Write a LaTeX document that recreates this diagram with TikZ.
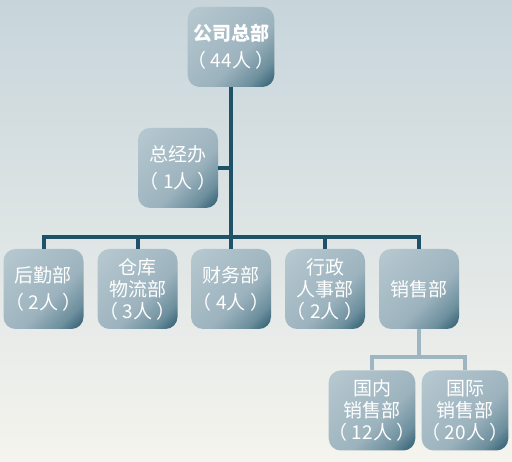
\documentclass[tikz,border=0pt]{standalone}
\usepackage{fontspec}
\setmainfont{Noto Sans CJK SC}
\usepackage{xcolor}
\usetikzlibrary{positioning}

\definecolor{bgtop}{RGB}{199,213,219}
\definecolor{bgbottom}{RGB}{245,244,238}
\definecolor{boxlight}{RGB}{180,198,206}
\definecolor{boxmid}{RGB}{156,179,190}
\definecolor{boxdark}{RGB}{38,88,108}
\definecolor{linedark}{RGB}{31,82,102}
\definecolor{linelight}{RGB}{158,182,193}
\pgfdeclarehorizontalshading{unitshade}{100bp}{color(0bp)=(boxlight); color(20bp)=(boxlight); color(58bp)=(boxmid); color(74bp)=(boxmid!60!boxdark); color(86bp)=(boxdark); color(100bp)=(boxdark)}

\tikzset{
  unit/.style={rectangle, rounded corners=12pt, minimum width=80pt, minimum height=80pt,
    inner sep=0pt, shading=unitshade, shading angle=-45, text=white, align=center,
    font=\fontsize{19}{27}\selectfont},
  tallunit/.style={unit, font=\fontsize{19}{22}\selectfont},
  conn/.style={draw=linedark, line width=4pt},
  subconn/.style={draw=linelight, line width=4pt}
}

\begin{document}
\begin{tikzpicture}[x=1pt, y=-1pt]
\fill[top color=bgtop, bottom color=bgbottom] (0,0) rectangle (512,462);
\useasboundingbox (0,0) rectangle (512,462);

% head office and its staff office
\node[unit] (hq) at (231,47) {\textbf{公司总部}\\（ 44人 ）};
\node[unit] (office) at (178,168) {总经办\\（ 1人 ）};

% departments
\node[unit] (logi) at (43.5,289) {后勤部\\（ 2人 ）};
\node[tallunit] (ware) at (137.5,289) {仓库\\物流部\\（ 3人 ）};
\node[unit] (fin) at (231,289) {财务部\\（ 4人 ）};
\node[tallunit] (admin) at (325,289) {行政\\人事部\\（ 2人 ）};
\node[unit] (sales) at (419,289) {销售部};

% sales teams
\node[tallunit] (dom) at (372,410.5) {国内\\销售部\\（ 12人 ）};
\node[tallunit, minimum width=78pt] (intl) at (465,410.5) {国际\\销售部\\（ 20人 ）};

\draw[conn] (hq) -- (fin);
\draw[conn] (office.east) -- (office.east -| hq.south);
\draw[conn] (logi.north) -- ++(0,-12) -| (sales.north);
\foreach \d in {ware,admin} { \draw[conn] (\d.north) -- ++(0,-12); }

\draw[subconn] (sales.south) -- ++(0,28) -| (dom.north);
\draw[subconn] (sales.south) ++(0,28) -| (intl.north);
\end{tikzpicture}
\end{document}
